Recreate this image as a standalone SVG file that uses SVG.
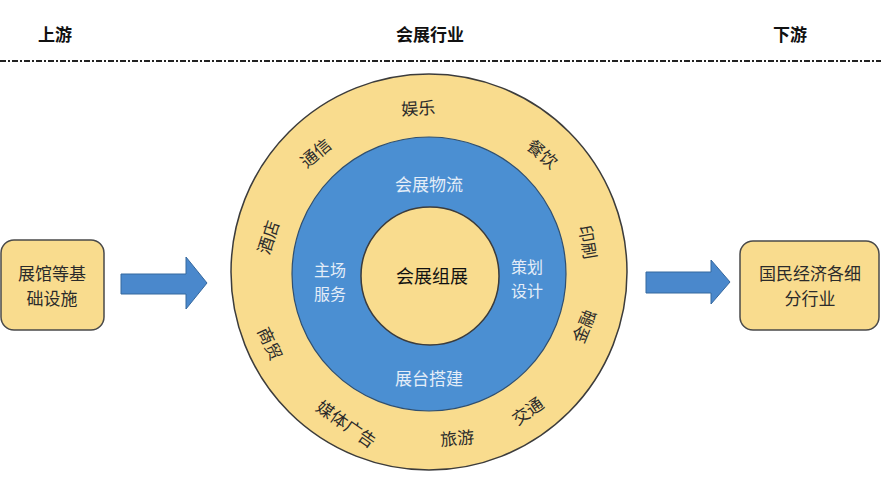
<svg xmlns="http://www.w3.org/2000/svg" width="881" height="500" viewBox="0 0 881 500">
<style>
.hdr{font-family:"Noto Sans CJK SC",sans-serif;font-size:17px;font-weight:bold;fill:#111;text-anchor:middle}
.lbl{font-family:"Noto Sans CJK SC",sans-serif;font-size:17px;fill:#2b2b2b;text-anchor:middle;dominant-baseline:central}
.ml{font-family:"Noto Sans CJK SC",sans-serif;font-size:17px;fill:#2b2b2b;text-anchor:middle}
.wl{font-family:"Noto Sans CJK SC",sans-serif;font-size:17px;fill:#e4edf8;text-anchor:middle;dominant-baseline:central}
.wm{font-family:"Noto Sans CJK SC",sans-serif;font-size:16px;fill:#e4edf8;text-anchor:middle}
.box{fill:#f9dc8e;stroke:#4a4a4a;stroke-width:1.5}
.yel{fill:#f9dc8e;stroke:#3c3c3c;stroke-width:1.5}
.blu{fill:#4b8fd2;stroke:#2f4f70;stroke-width:1.2}
.arr{fill:#4a88cc;stroke:#35689e;stroke-width:1}
</style>
<rect width="881" height="500" fill="#ffffff"/>
<g id="header">
<text class="hdr" x="55" y="41">上游</text>
<text class="hdr" x="430" y="41">会展行业</text>
<text class="hdr" x="790" y="41">下游</text>
<line x1="0" y1="61" x2="881" y2="61" stroke="#222" stroke-width="2" stroke-dasharray="6 2 2 2"/>
</g>
<g id="upstream">
<rect class="box" x="1" y="240" width="103" height="90" rx="13"/>
<text class="ml" x="52" y="280">展馆等基<tspan x="52" dy="25">础设施</tspan></text>
</g>
<g id="downstream">
<rect class="box" x="740" y="241" width="139" height="89" rx="13"/>
<text class="ml" x="810" y="280">国民经济各细<tspan x="810" dy="25">分行业</tspan></text>
</g>
<g id="connectors">
<polygon class="arr" points="121,274 186,274 186,257 207,283 186,309 186,294 121,294"/>
<polygon class="arr" points="646,272 711,272 711,260 730,282 711,304 711,293 646,293"/>
</g>
<g id="industry">
<circle class="yel" cx="429" cy="272" r="198"/>
<circle class="blu" cx="429" cy="274" r="137"/>
<circle class="yel" cx="430" cy="276" r="69"/>
<text class="lbl" x="418" y="107" transform="rotate(-3 418 107)">娱乐</text>
<text class="lbl" x="315" y="152" transform="rotate(-40 315 152)">通信</text>
<text class="lbl" x="543" y="153" transform="rotate(40 543 153)">餐饮</text>
<text class="lbl" x="267" y="237" transform="rotate(-72 267 237)">酒店</text>
<text class="lbl" x="589" y="242" transform="rotate(80 589 242)">印刷</text>
<text class="lbl" x="271" y="343" transform="rotate(65 271 343)">商贸</text>
<text class="lbl" x="583" y="326" transform="rotate(-68 583 326)">金融</text>
<text class="lbl" x="347" y="423" transform="rotate(35 347 423)">媒体广告</text>
<text class="lbl" x="457" y="437" transform="rotate(-5 457 437)">旅游</text>
<text class="lbl" x="527" y="410" transform="rotate(-35 527 410)">交通</text>
<text class="wl" x="429" y="183">会展物流</text>
<text class="wm" x="330" y="276">主场<tspan x="330" dy="24">服务</tspan></text>
<text class="wm" x="527" y="273">策划<tspan x="527" dy="24">设计</tspan></text>
<text class="wl" x="429" y="377">展台搭建</text>
<text class="lbl" x="432" y="275" style="font-size:18px;fill:#111">会展组展</text>
</g>
</svg>
